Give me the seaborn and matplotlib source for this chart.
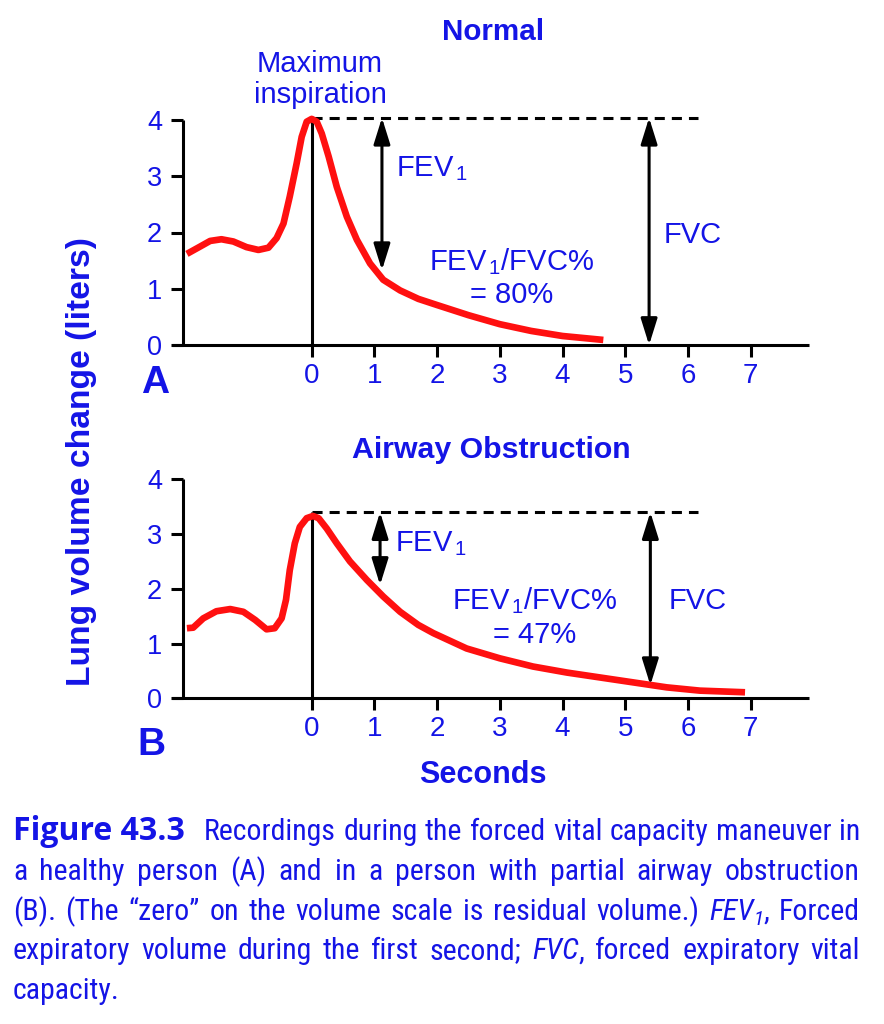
import matplotlib
matplotlib.use('Agg')
import numpy as np
import pandas as pd
import matplotlib.pyplot as plt
import seaborn as sns
from matplotlib import font_manager
from matplotlib.font_manager import FontProperties

# Curves (seconds, litres)
# A: normal subject
time_a = [-1.99, -1.78, -1.62, -1.44, -1.25, -1.04, -0.85, -0.69, -0.56, -0.45,
          -0.35, -0.24, -0.16, -0.08, 0.0, 0.08, 0.16, 0.27, 0.40, 0.56,
          0.72, 0.93, 1.14, 1.41, 1.70, 2.0, 2.5, 3.0, 3.5, 4.0, 4.65]
vol_a = [1.62, 1.75, 1.85, 1.88, 1.84, 1.74, 1.69, 1.73, 1.90, 2.16,
         2.64, 3.23, 3.70, 3.97, 4.02, 3.97, 3.76, 3.35, 2.81, 2.28,
         1.87, 1.45, 1.16, 0.97, 0.82, 0.71, 0.53, 0.37, 0.25, 0.16, 0.09]

# B: airway obstruction
time_b = [-1.99, -1.89, -1.73, -1.52, -1.30, -1.09, -0.90, -0.72, -0.59, -0.48,
          -0.41, -0.35, -0.27, -0.19, -0.08, 0.02, 0.11, 0.24, 0.40, 0.61,
          0.88, 1.14, 1.41, 1.70, 1.94, 2.47, 3.00, 3.53, 4.07, 4.60,
          5.13, 5.66, 6.19, 6.91]
vol_b = [1.28, 1.29, 1.46, 1.59, 1.63, 1.58, 1.43, 1.26, 1.28, 1.46,
         1.80, 2.34, 2.83, 3.13, 3.29, 3.33, 3.29, 3.10, 2.83, 2.50,
         2.16, 1.86, 1.58, 1.34, 1.19, 0.91, 0.73, 0.58, 0.47, 0.38,
         0.29, 0.20, 0.14, 0.11]

# reference levels / arrows
peak_level = [4.04, 3.40]        # dashed line (maximum inspiration)
dash_end = 6.16
fev1_x = [1.12, 1.09]
fev1_bottom = [1.33, 2.07]
fvc_x = [5.38, 5.40]
fvc_bottom = [0.0, 0.24]
ratio_text = ['= 80%', '= 47%']
panel_titles = ['Normal', 'Airway Obstruction']
panel_letters = ['A', 'B']
x_ticks = [0, 1, 2, 3, 4, 5, 6, 7]
y_ticks = [0, 1, 2, 3, 4]

BLUE = '#1414e6'
RED = '#ff1010'

sns.set_style('ticks')
plt.rcParams['font.family'] = ['Liberation Sans', 'DejaVu Sans']
plt.rcParams['mathtext.fontset'] = 'custom'
plt.rcParams['mathtext.rm'] = 'Liberation Sans'
plt.rcParams['mathtext.it'] = 'Liberation Sans:italic'
plt.rcParams['mathtext.bf'] = 'Liberation Sans:bold'

W, H = 884, 1024
fig = plt.figure(figsize=(W / 100, H / 100), dpi=100)
fig.patch.set_facecolor('white')


def fx(px):
    return px / W


def fy(py):
    return 1 - py / H


# axes geometry in pixels: (zero line y, px per litre)
panels = [(345.0, 56.25), (698.3, 54.75)]
x_left, x_right = -2.228, 7.93
ax_left_px, ax_right_px = 172, 809
ymax = 4.12

curves = [(time_a, vol_a), (time_b, vol_b)]
axes = []
for i, (zero_px, ppl) in enumerate(panels):
    h = ymax * ppl
    ax = fig.add_axes([fx(ax_left_px), fy(zero_px), (ax_right_px - ax_left_px) / W, h / H])
    ax.set_facecolor('none')
    ax.set_xlim(x_left, x_right)
    ax.set_ylim(0, ymax)
    for s in ['top', 'right']:
        ax.spines[s].set_visible(False)
    ax.spines['left'].set_position(('data', -2.05))
    ax.spines['left'].set_bounds(0, 4)
    for s in ['left', 'bottom']:
        ax.spines[s].set_color('black')
        ax.spines[s].set_linewidth(2.2)
        ax.spines[s].set_capstyle('butt')
    ax.set_xticks(x_ticks)
    ax.set_yticks(y_ticks)
    ax.tick_params(axis='both', direction='out', length=8.6, width=2.2, color='black',
                   labelcolor=BLUE)
    ax.tick_params(axis='x', labelsize=20, pad=4.5)
    ax.tick_params(axis='y', labelsize=19.5, pad=6.5)

    peak = peak_level[i]
    # zero time line and dashed max-inspiration line
    ax.plot([0, 0], [0, peak], color='black', lw=2.2, solid_capstyle='butt', zorder=2)
    ax.plot([0, dash_end], [peak, peak], color='black', lw=2.2,
            ls=(0, (3.3, 2.3)), zorder=2)

    t, v = curves[i]
    df = pd.DataFrame({'Seconds': t, 'Volume': v})
    sns.lineplot(data=df, x='Seconds', y='Volume', ax=ax, color=RED, lw=4.8,
                 sort=False, estimator=None, zorder=3)
    ax.lines[-1].set_solid_capstyle('butt')
    ax.lines[-1].set_solid_joinstyle('round')
    ax.set_xlabel('')
    ax.set_ylabel('')

    arrow = dict(arrowstyle='<|-|>,head_length=0.8,head_width=0.25', color='black',
                 lw=2.2, mutation_scale=20, shrinkA=0, shrinkB=0)
    ax.annotate('', xy=(fev1_x[i], fev1_bottom[i]), xytext=(fev1_x[i], peak),
                arrowprops=arrow)
    ax.annotate('', xy=(fvc_x[i], fvc_bottom[i]), xytext=(fvc_x[i], peak),
                arrowprops=arrow)
    axes.append(ax)

# text in the plots
txt = dict(color=BLUE, va='baseline')
fig.text(fx(493), fy(40), panel_titles[0], fontsize=21.3, fontweight='bold', ha='center', **txt)
fig.text(fx(491), fy(458), panel_titles[1], fontsize=21.8, fontweight='bold', ha='center', **txt)
fig.text(fx(320), fy(71.7), 'Maximum', fontsize=21, ha='center', **txt)
fig.text(fx(320), fy(102.7), 'inspiration', fontsize=21, ha='center', **txt)

fev_label = r'FEV$_{\,\mathrm{1}}$'
fev_pos = [(396.5, 176), (395, 551.7)]
ratio_pos = [(511.7, 270, 303), (535, 609.3, 643.3)]
fvc_pos = [(663.3, 243.3), (668.3, 609.3)]
letter_pos = [(155, 393), (151, 755)]
for i in range(2):
    fig.text(fx(fev_pos[i][0]), fy(fev_pos[i][1]), fev_label, fontsize=21,
             ha='left', **txt)
    cx, y1, y2 = ratio_pos[i]
    fig.text(fx(cx), fy(y1), fev_label + '/FVC%', fontsize=21, ha='center', **txt)
    fig.text(fx(cx), fy(y2), ratio_text[i], fontsize=21, ha='center', **txt)
    fig.text(fx(fvc_pos[i][0]), fy(fvc_pos[i][1]), 'FVC', fontsize=21, ha='left', **txt)
    fig.text(fx(letter_pos[i][0]), fy(letter_pos[i][1]), panel_letters[i], fontsize=28,
             fontweight='bold', ha='center', **txt)

fig.text(fx(82), fy(462), 'Lung volume change (liters)', rotation=90, fontsize=24.2,
         fontweight='bold', color=BLUE, ha='center', va='center')
fig.text(fx(482.5), fy(783.3), 'Seconds', fontsize=22, fontweight='bold', ha='center', **txt)

# caption font: a narrow / condensed face if one is installed
def is_narrow(f):
    st = f.stretch
    if isinstance(st, str):
        narrow = 'condensed' in st
    else:
        narrow = st < 500
    return narrow or 'Narrow' in f.name or 'Condensed' in f.name


ttf = font_manager.fontManager.ttflist
prefer = ['Liberation Sans Narrow', 'Open Sans', 'Noto Sans', 'Roboto', 'DejaVu Sans']
cap_regular, cap_italic = None, None
for fam in prefer:
    group = [f for f in ttf if is_narrow(f) and f.name.startswith(fam)]
    regs = [f for f in group if f.style == 'normal' and f.weight in (400, 'normal', 'regular')]
    if regs:
        cap_regular = regs[0].fname
        its = [f for f in group if f.style in ('italic', 'oblique')
               and f.weight in (400, 'normal', 'regular')]
        cap_italic = its[0].fname if its else None
        break


def fprops(style, size):
    if style == 'bold':
        return FontProperties(family='Open Sans', weight='bold', size=size * 1.07)
    if cap_regular is None:
        return FontProperties(family='Open Sans', size=size,
                              style='italic' if style == 'italic' else 'normal')
    if style == 'italic':
        if cap_italic:
            return FontProperties(fname=cap_italic, size=size)
        return FontProperties(fname=cap_regular, size=size)
    return FontProperties(fname=cap_regular, size=size)


fev_word = [('FEV', 'italic', 1.0, 0), ('1', 'italic', 0.7, -5), (',', 'roman', 1.0, 0)]
fvc_word = [('FVC', 'italic', 1.0, 0), (',', 'roman', 1.0, 0)]
caption = [
    [[('Figure 43.3', 'bold', 1.0, 0)]] + 'Recordings during the forced vital capacity maneuver in'.split(),
    'a healthy person (A) and in a person with partial airway obstruction'.split(),
    '(B). (The “zero” on the volume scale is residual volume.)'.split() + [fev_word, 'Forced'],
    'expiratory volume during the first second;'.split() + [fvc_word] + 'forced expiratory vital'.split(),
    ['capacity.'],
]

renderer = fig.canvas.get_renderer()


def as_pieces(word):
    if isinstance(word, str):
        return [(word, 'roman', 1.0, 0)]
    return word


def piece_width(text, style, scale, size):
    t = fig.text(0, 0, text, fontproperties=fprops(style, size * scale))
    w = t.get_window_extent(renderer).width
    t.remove()
    return w


def word_width(word, size):
    return sum(piece_width(p[0], p[1], p[2], size) for p in as_pieces(word))


cap_left, cap_right = 13, 860
target = cap_right - cap_left
extra = 12
size = 20.0
space = piece_width('a a', 'roman', 1.0, size) - 2 * piece_width('a', 'roman', 1.0, size)
natural = max(sum(word_width(w, size) for w in ln) + space * (len(ln) - 1) + extra
              for ln in caption[:-1])
size = float(np.clip(size * target / natural, 15, 21.5))
space = piece_width('a a', 'roman', 1.0, size) - 2 * piece_width('a', 'roman', 1.0, size)

for li, line in enumerate(caption):
    y = 840.5 + 39.6 * li
    widths = [word_width(w, size) for w in line]
    ex = extra if li == 0 else 0
    if li < len(caption) - 1:
        gap = (target - sum(widths) - ex) / (len(line) - 1)
    else:
        gap = space
    x = cap_left
    for wi, word in enumerate(line):
        px = x
        for text, style, scale, dy in as_pieces(word):
            fig.text(fx(px), fy(y - dy), text, color=BLUE, va='baseline', ha='left',
                     fontproperties=fprops(style, size * scale))
            px += piece_width(text, style, scale, size)
        x += widths[wi] + gap
        if li == 0 and wi == 0:
            x += ex

fig.savefig('out.png', dpi=100, facecolor='white')
